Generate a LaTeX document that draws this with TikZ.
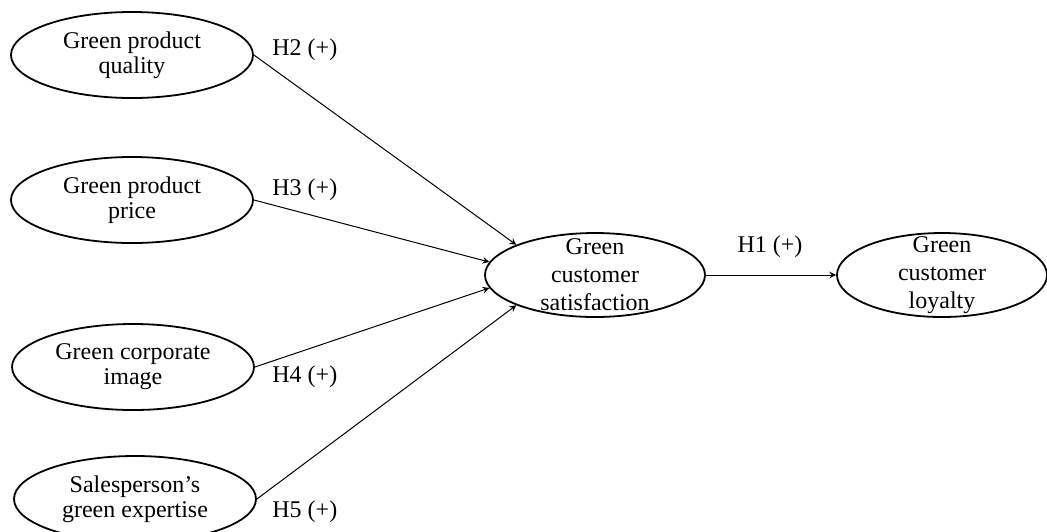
\documentclass[tikz,border=0pt]{standalone}
\usepackage{fontspec}
\setmainfont{Liberation Serif}
\usetikzlibrary{shapes.geometric}

\begin{document}
\begin{tikzpicture}[x=0.5pt,y=-0.5pt,
        construct/.style={draw,line width=0.9pt,ellipse,inner sep=0pt,minimum width=121pt,minimum height=43pt},
        ctext/.style={align=center,inner sep=0pt,font=\fontsize{12}{12.5}\selectfont},
        ctextb/.style={align=center,inner sep=0pt,font=\fontsize{12}{14}\selectfont},
        hyp/.style={inner sep=0pt,font=\fontsize{12}{14}\selectfont},
        path/.style={line width=0.5pt,-stealth}]
        \useasboundingbox (0,0) rectangle (1047,531);
        % exogenous constructs
        \node[construct] (qual) at (132,55) {};
        \node[ctext] (qual-t) at (qual) {Green product\\quality};
        \node[construct] (price) at (132,200) {};
        \node[ctext] (price-t) at (price) {Green product\\price};
        \node[construct] (image) at (133,367) {};
        \node[ctext] (image-t) at (image) {Green corporate\\image};
        \node[construct] (expert) at (135,499) {};
        \node[ctext] (expert-t) at (expert) {Salesperson’s\\green expertise};
        % endogenous constructs
        \node[construct,minimum width=110pt,minimum height=42pt] (sat) at (595,275) {};
        \node[ctextb] (sat-t) at (sat) {Green\\customer\\satisfaction};
        \node[construct,minimum width=105pt,minimum height=42pt] (loyal) at (942,275) {};
        \node[ctextb] (loyal-t) at (loyal) {Green\\customer\\loyalty};
        % paths
        \draw[path] (qual.east) -- (sat.159);
        \draw[path] (price.east) -- (sat.173);
        \draw[path] (image.east) -- (sat.187);
        \draw[path] (expert.east) -- (sat.201);
        \draw[path] (sat.east) -- (loyal.west);
        % hypotheses
        \node[hyp,anchor=west] (h2) at (272,50) {H2 (+)};
        \node[hyp,anchor=west] (h3) at (272,190) {H3 (+)};
        \node[hyp,anchor=west] (h4) at (272,377) {H4 (+)};
        \node[hyp,anchor=west] (h5) at (272,512) {H5 (+)};
        \node[hyp] (h1) at (770,247) {H1 (+)};
\end{tikzpicture}
\end{document}
